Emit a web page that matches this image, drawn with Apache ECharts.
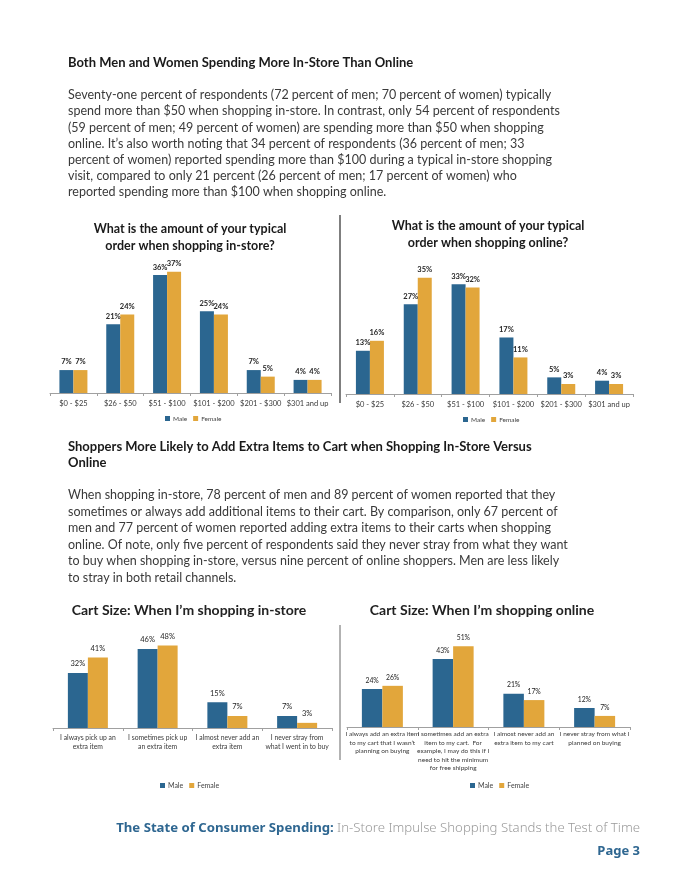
<!DOCTYPE html>
<html><head><meta charset="utf-8">
<script src="https://cdn.jsdelivr.net/npm/echarts@6/dist/echarts.min.js"></script>
<style>html,body{margin:0;padding:0;background:#fff}#c{width:680px;height:880px}</style>
</head><body><div id="c"></div>
<script>
// ---- data ----
const spendCategories = ['$0 - $25', '$26 - $50', '$51 - $100', '$101 - $200', '$201 - $300', '$301 and up'];
const inStoreMale = [7, 21, 36, 25, 7, 4];
const inStoreFemale = [7, 24, 37, 24, 5, 4];
const onlineMale = [13, 27, 33, 17, 5, 4];
const onlineFemale = [16, 35, 32, 11, 3, 3];
const cartInStoreCategories = ['I always pick up an\nextra item', 'I sometimes pick up\nan extra item', 'I almost never add an\nextra item', 'I never stray from\nwhat I went in to buy'];
const cartInStoreMale = [32, 46, 15, 7];
const cartInStoreFemale = [41, 48, 7, 3];
const cartOnlineCategories = ['I always add an extra item\nto my cart that I wasn\u2019t\nplanning on buying', 'I sometimes add an extra\nitem to my cart.  For\nexample, I may do this if I\nneed to hit the minimum\nfor free shipping', 'I almost never add an\nextra item to my cart', 'I never stray from what I\nplanned on buying'];
const cartOnlineMale = [24, 43, 21, 12];
const cartOnlineFemale = [26, 51, 17, 7];
const seriesNames = ['Male', 'Female'];

const heading1 = 'Both Men and Women Spending More In-Store Than Online';
const para1 = ['Seventy-one percent of respondents (72 percent of men; 70 percent of women) typically',
 'spend more than $50 when shopping in-store. In contrast, only 54 percent of respondents',
 '(59 percent of men; 49 percent of women) are spending more than $50 when shopping',
 'online. It\u2019s also worth noting that 34 percent of respondents (36 percent of men; 33',
 'percent of women) reported spending more than $100 during a typical in-store shopping',
 'visit, compared to only 21 percent (26 percent of men; 17 percent of women) who',
 'reported spending more than $100 when shopping online.'];
const heading2 = 'Shoppers More Likely to Add Extra Items to Cart when Shopping In-Store Versus\nOnline';
const para2 = ['When shopping in-store, 78 percent of men and 89 percent of women reported that they',
 'sometimes or always add additional items to their cart. By comparison, only 67 percent of',
 'men and 77 percent of women reported adding extra items to their carts when shopping',
 'online. Of note, only five percent of respondents said they never stray from what they want',
 'to buy when shopping in-store, versus nine percent of online shoppers. Men are less likely',
 'to stray in both retail channels.'];

const BLUE = '#2B6690', GOLD = '#E2A63B';
const chart = echarts.init(document.getElementById('c'), null, {renderer: 'canvas'});

function xAx(i, data, margin, lh, fs) {
  return {type: 'category', gridIndex: i, data: data,
    axisLine: {lineStyle: {color: '#a0a0a0', width: 1}},
    axisTick: {show: true, length: 3, lineStyle: {color: '#a0a0a0'}},
    axisLabel: {interval: 0, fontSize: fs, color: '#3a3a3a', fontFamily: 'Lato', margin: margin, lineHeight: lh}};
}
function yAx(i, max) { return {type: 'value', gridIndex: i, min: 0, max: max, show: false}; }
function bars(i, m, f, bw, bold, dist, fs) {
  const lab = {show: true, position: 'top', formatter: '{c}%', fontSize: fs, color: '#262626',
    fontWeight: bold ? 'bold' : 'normal', fontFamily: 'Lato', distance: dist};
  return [
    {name: 'Male', type: 'bar', xAxisIndex: i, yAxisIndex: i, data: m, barWidth: bw, barGap: '0%', itemStyle: {color: BLUE}, label: lab},
    {name: 'Female', type: 'bar', xAxisIndex: i, yAxisIndex: i, data: f, barWidth: bw, barGap: '0%', itemStyle: {color: GOLD}, label: lab}
  ];
}
function leg(left, top, fs) {
  return {data: seriesNames, left: left, top: top, padding: 0, itemWidth: 5, itemHeight: 5, itemGap: 6,
    icon: 'rect', textStyle: {fontSize: fs, color: '#444', fontFamily: 'Lato', padding: [0, 0, 0, -2]}, selectedMode: false};
}
const bodyFont = '12.5px Lato';
const option = {
  animation: false,
  textStyle: {fontFamily: 'Lato'},
  grid: [
    {left: 50, right: 349, top: 262, bottom: 487},
    {left: 346, right: 47, top: 261, bottom: 486},
    {left: 53, right: 348, top: 625, bottom: 152},
    {left: 347, right: 50, top: 632, bottom: 153}
  ],
  xAxis: [xAx(0, spendCategories, 6, 9, 7.5), xAx(1, spendCategories, 6, 9, 7.5), xAx(2, cartInStoreCategories, 5, 9, 6.8), xAx(3, cartOnlineCategories, 3, 8.5, 6.5)],
  yAxis: [yAx(0, 40), yAx(1, 40), yAx(2, 60), yAx(3, 60)],
  legend: [leg(165, 415, 6.5), leg(463, 416, 6.5), leg(160, 782, 7), leg(470, 782, 7)],
  series: [].concat(
    bars(0, inStoreMale, inStoreFemale, 14, true, 4, 7.5),
    bars(1, onlineMale, onlineFemale, 14, true, 4, 7.5),
    bars(2, cartInStoreMale, cartInStoreFemale, 20, false, 5, 7.5),
    bars(3, cartOnlineMale, cartOnlineFemale, 20.5, false, 5, 6.8)
  ),
  title: [
    {text: 'What is the amount of your typical\norder when shopping in-store?', left: 190, top: 220, textAlign: 'center', padding: 0,
      textStyle: {fontSize: 12.5, fontWeight: 'bold', color: '#1a1a1a', fontFamily: 'Lato', lineHeight: 17}},
    {text: 'What is the amount of your typical\norder when shopping online?', left: 488, top: 217, textAlign: 'center', padding: 0,
      textStyle: {fontSize: 12.5, fontWeight: 'bold', color: '#1a1a1a', fontFamily: 'Lato', lineHeight: 17}},
    {text: 'Cart Size: When I\u2019m shopping in-store', left: 189, top: 603, textAlign: 'center', padding: 0,
      textStyle: {fontSize: 14, fontWeight: 'bold', color: '#222', fontFamily: 'Lato'}},
    {text: 'Cart Size: When I\u2019m shopping online', left: 482, top: 603, textAlign: 'center', padding: 0,
      textStyle: {fontSize: 14, fontWeight: 'bold', color: '#222', fontFamily: 'Lato'}}
  ],
  graphic: [
    {type: 'text', left: 68, top: 56, style: {text: heading1, font: 'bold 13px Lato', fill: '#1a1a1a'}},
    {type: 'text', left: 68, top: 87, style: {text: para1.join('\n'), font: bodyFont, fill: '#3a3a3a', lineHeight: 16.2}},
    {type: 'text', left: 68, top: 439, style: {text: heading2, font: 'bold 13px Lato', fill: '#1a1a1a', lineHeight: 16}},
    {type: 'text', left: 68, top: 487, style: {text: para2.join('\n'), font: bodyFont, fill: '#3a3a3a', lineHeight: 16.5}},
    {type: 'line', shape: {x1: 340, y1: 215, x2: 340, y2: 403}, style: {stroke: '#555', lineWidth: 1.5}},
    {type: 'line', shape: {x1: 340, y1: 625, x2: 340, y2: 760}, style: {stroke: '#666', lineWidth: 1}},
    {type: 'text', right: 40, top: 822, style: {text: '{a|The State of Consumer Spending:} {b|In-Store Impulse Shopping Stands the Test of Time}',
      rich: {a: {fontFamily: 'Noto Sans', fontWeight: 'bold', fontSize: 13.2, fill: '#2F6791', color: '#2F6791'},
             b: {fontFamily: 'Noto Sans', fontWeight: 300, fontSize: 13.2, fill: '#9a9a9a', color: '#9a9a9a'}}}},
    {type: 'text', right: 40, top: 845, style: {text: 'Page 3', font: 'bold 13px "Noto Sans"', fill: '#2F6791'}}
  ]
};
chart.setOption(option);
</script></body></html>
